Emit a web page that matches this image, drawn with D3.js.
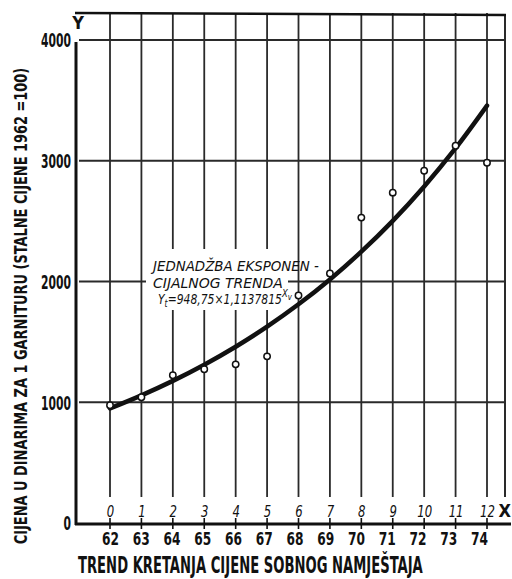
<!DOCTYPE html>
<html><head><meta charset="utf-8">
<script src="https://cdn.jsdelivr.net/npm/d3@7"></script>
<style>body{margin:0;background:#fff}</style>
</head><body><svg id="c" width="512" height="579"></svg>
<script>
// ---- data ----
const indexValues = [0,1,2,3,4,5,6,7,8,9,10,11,12];
const years = ["62","63","64","65","66","67","68","69","70","71","72","73","74"];
const observed = [975, 1041, 1223, 1273, 1314, 1380, 1884, 2066, 2529, 2736, 2917, 3124, 2983];
const trend = [949, 1057, 1177, 1311, 1460, 1626, 1811, 2017, 2247, 2502, 2787, 3104, 3457];
const yTicks = [0, 1000, 2000, 3000, 4000];
const yTitle = "CIJENA U DINARIMA ZA 1 GARNITURU (STALNE CIJENE 1962 =100)";
const chartTitle = "TREND KRETANJA CIJENE SOBNOG NAMJEŠTAJA";
const noteLines = ["JEDNADŽBA EKSPONEN -", "CIJALNOG TRENDA"];

// ---- drawing ----
const svg = d3.select("#c");
svg.append("rect").attr("width",512).attr("height",579).attr("fill","#fff");
const ink = "#111";
const grid = "#2a2a2a";
const BOLD = "'DejaVu Sans Condensed','Liberation Sans Narrow',sans-serif";
const x = d3.scaleLinear().domain([0,12]).range([110,487]);
const y = d3.scaleLinear().domain([0,4000]).range([523,40]);
const xYear = d3.scalePoint().domain(years).range([110,479]);

function widthOf(sel){ return sel.node().getComputedTextLength(); }

// vertical grid lines
svg.append("g").selectAll("line").data(indexValues).join("line")
  .attr("x1",d=>x(d)).attr("x2",d=>x(d)).attr("y1",13).attr("y2",497)
  .attr("stroke",grid).attr("stroke-width",1.8);
// right border
svg.append("line").attr("x1",505).attr("x2",505).attr("y1",14).attr("y2",497)
  .attr("stroke",grid).attr("stroke-width",2);
// top border
svg.append("line").attr("x1",75).attr("x2",506).attr("y1",13).attr("y2",15)
  .attr("stroke",ink).attr("stroke-width",2.5);
// horizontal grid lines
svg.append("g").selectAll("line").data(yTicks.filter(d=>d>0)).join("line")
  .attr("x1",79).attr("x2",505).attr("y1",d=>y(d)).attr("y2",d=>y(d))
  .attr("stroke",grid).attr("stroke-width",2.2);

// white box behind note
svg.append("rect").attr("x",146).attr("y",249).attr("width",142).attr("height",61).attr("fill","#fff");

// axes lines
svg.append("line").attr("x1",76).attr("x2",76).attr("y1",42).attr("y2",525)
  .attr("stroke",ink).attr("stroke-width",3);
svg.append("line").attr("x1",75).attr("x2",511).attr("y1",524).attr("y2",524)
  .attr("stroke",ink).attr("stroke-width",3);
// ticks on baseline
svg.append("g").selectAll("line").data(indexValues).join("line")
  .attr("x1",d=>x(d)).attr("x2",d=>x(d)).attr("y1",518).attr("y2",529)
  .attr("stroke",ink).attr("stroke-width",1.6);

// y tick labels
const gy = svg.append("g").attr("transform","translate(71,0)")
  .call(d3.axisLeft(y).tickValues(yTicks).tickSize(0).tickPadding(0).tickFormat(d3.format("d")));
gy.select(".domain").remove();
const yl = gy.selectAll("text").attr("font-family",BOLD).attr("font-weight","bold")
  .attr("font-size",19).attr("fill",ink).attr("dy","0.36em");
const k4000 = 30 / widthOf(yl.filter(d=>d===4000));
yl.attr("transform",`scale(${k4000},1)`);

// index labels
const gi = svg.append("g").attr("transform","translate(0,506)")
  .call(d3.axisBottom(x).tickValues(indexValues).tickSize(0).tickPadding(0).tickFormat(d3.format("d")));
gi.select(".domain").remove();
gi.selectAll("text").attr("font-family","'DejaVu Sans',sans-serif")
  .attr("font-style","italic").attr("font-size",15).attr("fill",ink)
  .attr("transform","scale(0.78,1)");

// year labels
const gyr = svg.append("g").attr("transform","translate(0,533)")
  .call(d3.axisBottom(xYear).tickSize(0).tickPadding(0));
gyr.select(".domain").remove();
const yrl = gyr.selectAll("text").attr("font-family",BOLD).attr("font-weight","bold")
  .attr("font-size",17).attr("fill",ink);
const kYr = 17 / widthOf(yrl.filter(d=>d==="62"));
yrl.attr("transform",`scale(${kYr},1)`);

// axis letters
svg.append("text").attr("x",78).attr("y",29).attr("text-anchor","middle")
  .attr("font-family",BOLD).attr("font-weight","bold").attr("font-size",18).attr("fill",ink).text("Y");
svg.append("text").attr("x",511).attr("y",517).attr("text-anchor","end")
  .attr("font-family",BOLD).attr("font-weight","bold").attr("font-size",18).attr("fill",ink).text("X");

// trend curve
const line = d3.line().x((d,i)=>x(indexValues[i])).y(d=>y(d)).curve(d3.curveCatmullRom);
svg.append("path").datum(trend).attr("d",line).attr("fill","none")
  .attr("stroke",ink).attr("stroke-width",4.5).attr("stroke-linecap","round");

// observed points
svg.append("g").selectAll("circle").data(observed).join("circle")
  .attr("cx",(d,i)=>x(indexValues[i])).attr("cy",d=>y(d)).attr("r",3.2)
  .attr("fill","#fff").attr("stroke",ink).attr("stroke-width",1.5);

// note
const NOTE = "'DejaVu Sans Condensed','DejaVu Sans',sans-serif";
function note(str, x0, y0, w){
  const t = svg.append("text").attr("font-family",NOTE).attr("font-style","italic")
    .attr("font-size",14).attr("fill",ink).text(str);
  const k = w / widthOf(t);
  t.attr("transform",`translate(${x0},${y0}) scale(${k},1)`);
}
note(noteLines[0], 153, 271, 166);
note(noteLines[1], 153, 288, 130);
const eq = svg.append("text").attr("font-family",NOTE)
  .attr("font-style","italic").attr("font-size",14).attr("fill",ink);
eq.append("tspan").text("Y");
eq.append("tspan").attr("font-size",10).attr("dy",3).text("t");
eq.append("tspan").attr("dy",-3).text("=948,75×1,1137815");
eq.append("tspan").attr("font-size",11).attr("dy",-7).text("X");
eq.append("tspan").attr("font-size",9).attr("dy",3).text("v");
const kEq = 134 / widthOf(eq);
eq.attr("transform",`translate(158,304) scale(${kEq},1)`);

// y-axis title
const yt = svg.append("text").attr("text-anchor","middle")
  .attr("font-family",BOLD).attr("font-weight","bold").attr("font-size",18).attr("fill",ink)
  .text(yTitle);
const kYt = 477 / widthOf(yt);
yt.attr("transform",`translate(27,306) rotate(-90) scale(${kYt},1)`);

// chart title
const ct = svg.append("text")
  .attr("font-family",BOLD).attr("font-weight","bold").attr("font-size",21).attr("fill",ink)
  .text(chartTitle);
const kCt = 345 / widthOf(ct);
ct.attr("transform",`translate(78,573) scale(${kCt},1.1)`);
</script></body></html>
